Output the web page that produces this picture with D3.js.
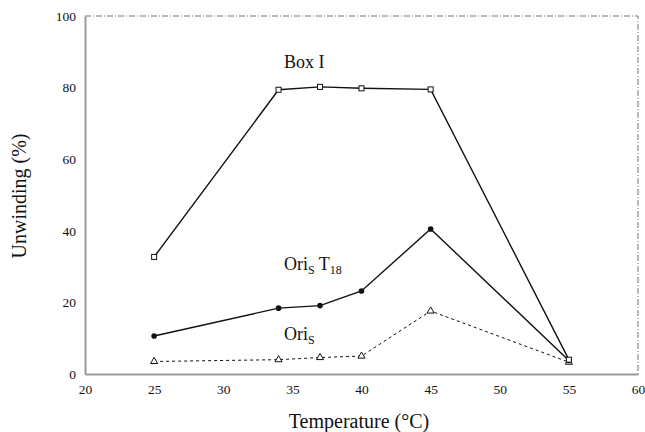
<!DOCTYPE html>
<html><head><meta charset="utf-8">
<script src="https://cdn.jsdelivr.net/npm/d3@7"></script>
<style>body{margin:0;background:#fff}svg{display:block}svg text{font-family:"Liberation Serif","Times New Roman",serif;fill:#111}</style>
</head><body>
<svg id="c" width="645" height="432"></svg>
<script>
const temps = [25, 34, 37, 40, 45, 55];
const boxI = [32.7, 79.4, 80.2, 79.8, 79.5, 4.0];
const oriST18 = [10.6, 18.4, 19.1, 23.2, 40.5, 3.8];
const oriS = [3.5, 4.0, 4.6, 5.0, 17.6, 3.3];
const xTicks = [20, 25, 30, 35, 40, 45, 50, 55, 60];
const yTicks = [0, 20, 40, 60, 80, 100];

const svg = d3.select("#c");
const m = {l: 85, r: 638, t: 16, b: 374};
const x = d3.scaleLinear().domain([20, 60]).range([m.l, m.r]);
const y = d3.scaleLinear().domain([0, 100]).range([m.b, m.t]);

svg.append("path").attr("d", `M${m.l},${m.t}H${m.r}V${m.b}`)
  .attr("fill", "none").attr("stroke", "#777").attr("stroke-width", 1).attr("stroke-dasharray", "6,2,1,2");

const xa = svg.append("g").attr("transform", `translate(0,${m.b})`)
  .call(d3.axisBottom(x).tickValues(xTicks).tickSize(0).tickPadding(10).tickFormat(d3.format("d")));
const ya = svg.append("g").attr("transform", `translate(${m.l},0)`)
  .call(d3.axisLeft(y).tickValues(yTicks).tickSize(0).tickPadding(9).tickFormat(d3.format("d")));
[xa, ya].forEach(a => {
  a.attr("font-family", "Liberation Serif").attr("font-size", 13.5);
  a.style("font-family", "'Liberation Serif', serif").style("font-size", "13.5px");
  a.select(".domain").attr("stroke", "#999").attr("stroke-width", 2);
  a.selectAll(".tick text").style("font-family", "'Liberation Serif', serif").style("font-size", "13.5px").attr("fill", "#111");
});

const line = d3.line().x(d => x(d[0])).y(d => y(d[1]));
const pts = arr => temps.map((t, i) => [t, arr[i]]);

svg.append("path").datum(pts(oriS)).attr("d", line).attr("fill", "none")
  .attr("stroke", "#111").attr("stroke-width", 1).attr("stroke-dasharray", "3,3");
svg.append("path").datum(pts(oriST18)).attr("d", line).attr("fill", "none")
  .attr("stroke", "#111").attr("stroke-width", 1.4);
svg.append("path").datum(pts(boxI)).attr("d", line).attr("fill", "none")
  .attr("stroke", "#111").attr("stroke-width", 1.4);

svg.selectAll(".tri").data(pts(oriS)).join("path")
  .attr("transform", d => `translate(${x(d[0])},${y(d[1])})`)
  .attr("d", d3.symbol(d3.symbolTriangle, 22)).attr("fill", "#fff").attr("stroke", "#111").attr("stroke-width", 1);
svg.selectAll(".dia").data(pts(oriST18)).join("circle")
  .attr("cx", d => x(d[0])).attr("cy", d => y(d[1])).attr("r", 2.8).attr("fill", "#111");
svg.selectAll(".sq").data(pts(boxI)).join("rect")
  .attr("x", d => x(d[0]) - 2.5).attr("y", d => y(d[1]) - 2.5).attr("width", 5).attr("height", 5)
  .attr("fill", "#fff").attr("stroke", "#111").attr("stroke-width", 1);

svg.append("text").attr("x", 284).attr("y", 68).attr("font-size", 18).text("Box I");
const t1 = svg.append("text").attr("x", 284).attr("y", 270).attr("font-size", 18);
t1.append("tspan").text("Ori");
t1.append("tspan").attr("font-size", 12).attr("dy", 4).text("S");
t1.append("tspan").attr("dy", -4).text(" T");
t1.append("tspan").attr("font-size", 12).attr("dy", 4).text("18");
const t2 = svg.append("text").attr("x", 284).attr("y", 340).attr("font-size", 18);
t2.append("tspan").text("Ori");
t2.append("tspan").attr("font-size", 12).attr("dy", 4).text("S");

svg.append("text").attr("x", 359).attr("y", 428).attr("text-anchor", "middle").attr("font-size", 20).text("Temperature (°C)");
svg.append("text").attr("transform", "translate(26,196) rotate(-90)").attr("text-anchor", "middle").attr("font-size", 20).text("Unwinding (%)");
</script>
</body></html>
